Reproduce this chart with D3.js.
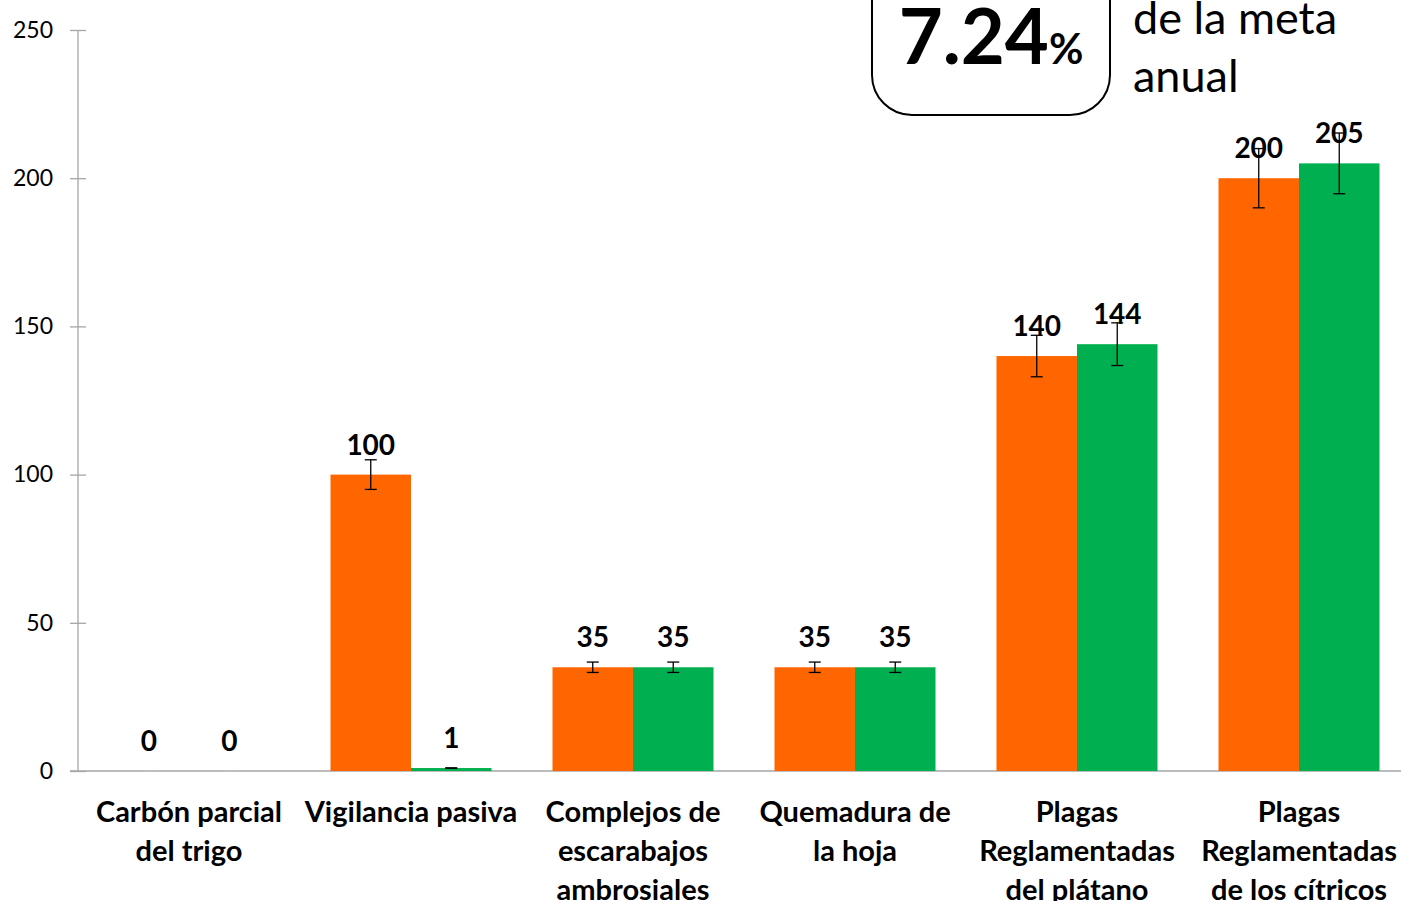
<!DOCTYPE html>
<html>
  <head>
    <meta charset="utf-8">
    <title>Meta anual</title>
    <script src="https://d3js.org/d3.v7.min.js"></script>
    <style>
      body { margin: 0; background: #fff; }
      #chart { display: block; font-family: Lato, "Open Sans", sans-serif; }
      .tick text { font-size: 23px; fill: #000; }
      .label { font-size: 28px; font-weight: bold; text-anchor: middle; }
      .cat { font-size: 29px; font-weight: bold; text-anchor: middle; }
    </style>
  </head>
  <body>
    <svg id="chart" width="1401" height="901"></svg>
    <script>
      // data
      categories = [
        ["Carbón parcial", "del trigo"],
        ["Vigilancia pasiva"],
        ["Complejos de", "escarabajos", "ambrosiales"],
        ["Quemadura de", "la hoja"],
        ["Plagas", "Reglamentadas", "del plátano"],
        ["Plagas", "Reglamentadas", "de los cítricos"]
      ];
      serieA = [0, 100, 35, 35, 140, 200];
      serieB = [0, 1, 35, 35, 144, 205];
      errorPct = 0.05;
      yTicks = [0, 50, 100, 150, 200, 250];
      colors = ["#FF6600", "#00B050"];
      bigValue = "7.24";
      goalLines = ["de la meta", "anual"];

      chart = d3.select("#chart");
      margin = { top: 30, left: 78, bottom: 130 };
      height = 901;
      bandW = 222;
      gap = 30.5;

      x = d3.scaleBand()
        .domain(d3.range(categories.length))
        .range([margin.left, margin.left + bandW * categories.length]);
      inner = d3.scaleBand()
        .domain([0, 1])
        .range([gap, bandW - gap]);
      y = d3.scaleLinear()
        .domain([0, 250])
        .range([height - margin.bottom, margin.top]);

      // y axis
      yAxis = d3.axisLeft(y)
        .tickValues(yTicks)
        .tickSize(0)
        .tickPadding(25);
      yAxisGroup = chart.append("g")
        .attr("transform", "translate(" + margin.left + ",0)")
        .call(yAxis);
      yAxisGroup.select(".domain").remove();
      yAxisGroup.selectAll(".tick").append("line")
        .attr("x1", -8).attr("x2", 8)
        .attr("stroke", "#a6a6a6").attr("stroke-width", 1.3);
      yAxisGroup.append("line")
        .attr("y1", y(250)).attr("y2", y(0))
        .attr("stroke", "#a6a6a6").attr("stroke-width", 1.3);
      yAxisGroup.selectAll(".tick text").attr("font-family", "Lato, sans-serif");

      // x axis line
      chart.append("line")
        .attr("x1", margin.left - 8).attr("x2", 1401)
        .attr("y1", y(0)).attr("y2", y(0))
        .attr("stroke", "#a6a6a6").attr("stroke-width", 1.3);

      rows = [];
      categories.forEach(function(c, i) {
        rows.push({ cat: i, s: 0, v: serieA[i] });
        rows.push({ cat: i, s: 1, v: serieB[i] });
      });

      groups = chart.append("g");
      bars = groups.selectAll(".bar")
        .data(rows)
        .enter().append("rect")
          .attr("x", function(d) { return x(d.cat) + inner(d.s); })
          .attr("width", inner.bandwidth())
          .attr("y", function(d) { return y(d.v); })
          .attr("height", function(d) { return y(0) - y(d.v); })
          .attr("fill", function(d) { return colors[d.s]; });

      // error bars
      err = groups.selectAll(".err")
        .data(rows)
        .enter().append("g")
          .attr("transform", function(d) { return "translate(" + (x(d.cat) + inner(d.s) + inner.bandwidth() / 2) + ",0)"; })
          .attr("stroke", function(d) { return d.v === 0 ? "#c0c0c0" : "#000"; })
          .attr("stroke-width", 1.3);
      err.append("line")
        .attr("y1", function(d) { return y(d.v * (1 + errorPct)); })
        .attr("y2", function(d) { return y(d.v * (1 - errorPct)); });
      err.append("line")
        .attr("x1", -6).attr("x2", 6)
        .attr("y1", function(d) { return y(d.v * (1 + errorPct)); })
        .attr("y2", function(d) { return y(d.v * (1 + errorPct)); });
      err.append("line")
        .attr("x1", -6).attr("x2", 6)
        .attr("y1", function(d) { return y(d.v * (1 - errorPct)); })
        .attr("y2", function(d) { return y(d.v * (1 - errorPct)); });

      // value labels
      groups.selectAll(".label")
        .data(rows)
        .enter().append("text")
          .classed("label", true)
          .attr("x", function(d) { return x(d.cat) + inner(d.s) + inner.bandwidth() / 2; })
          .attr("y", function(d) { return y(d.v) - 20; })
          .text(function(d) { return d.v; });

      // category labels
      cats = chart.append("g").selectAll(".cat")
        .data(categories)
        .enter().append("text")
          .classed("cat", true)
          .attr("x", function(d, i) { return x(i) + x.bandwidth() / 2; })
          .attr("y", y(0) + 51);
      cats.selectAll("tspan")
        .data(function(d) { return d; })
        .enter().append("tspan")
          .attr("x", function() { return d3.select(this.parentNode).attr("x"); })
          .attr("dy", function(d, i) { return i === 0 ? 0 : 39; })
          .text(function(d) { return d; });

      // callout
      box = chart.append("g");
      box.append("rect")
        .attr("x", 872).attr("y", -60)
        .attr("width", 238).attr("height", 175)
        .attr("rx", 40).attr("ry", 40)
        .attr("fill", "#fff").attr("stroke", "#000").attr("stroke-width", 2);
      big = box.append("text")
        .attr("x", 991).attr("y", 64)
        .attr("text-anchor", "middle")
        .attr("font-weight", "bold");
      big.append("tspan").attr("font-size", 76).text(bigValue);
      big.append("tspan").attr("font-size", 42).text("%");
      box.selectAll(".goal")
        .data(goalLines)
        .enter().append("text")
          .attr("x", 1133)
          .attr("y", function(d, i) { return 34 + i * 58; })
          .attr("font-size", 45)
          .text(function(d) { return d; });
    </script>
  </body>
</html>
